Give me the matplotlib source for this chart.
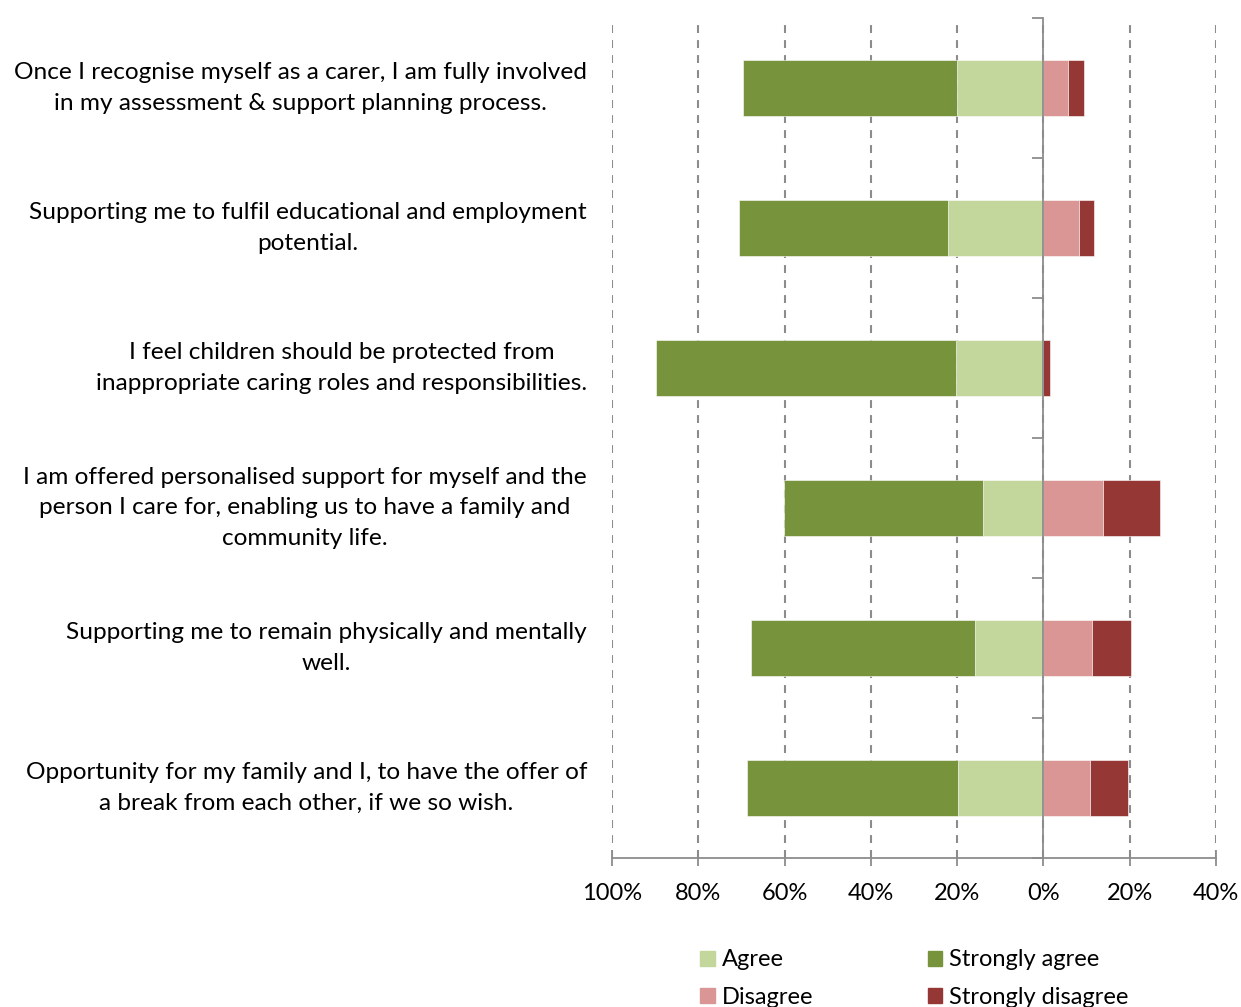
import matplotlib
matplotlib.use("Agg")
import matplotlib.pyplot as plt
from matplotlib.patches import Patch
from matplotlib.transforms import blended_transform_factory
import numpy as np

plt.rcParams['font.family'] = ['Lato', 'DejaVu Sans']

statements = [
    "Once I recognise myself as a carer, I am fully involved\nin my assessment & support planning process.",
    "Supporting me to fulfil educational and employment\npotential.",
    "I feel children should be protected from\ninappropriate caring roles and responsibilities.",
    "I am offered personalised support for myself and the\nperson I care for, enabling us to have a family and\ncommunity life.",
    "Supporting me to remain physically and mentally\nwell.",
    "Opportunity for my family and I, to have the offer of\na break from each other, if we so wish.",
]
strongly_agree = [49.6, 48.5, 69.4, 46.1, 51.9, 48.9]
agree = [20.1, 22.1, 20.3, 14.1, 15.9, 19.8]
disagree = [5.8, 8.2, 0.0, 13.9, 11.3, 10.9]
strongly_disagree = [3.5, 3.6, 1.5, 13.2, 8.9, 8.7]
x_ticks = [-100, -80, -60, -40, -20, 0, 20, 40]
x_tick_labels = ["100%", "80%", "60%", "40%", "20%", "0%", "20%", "40%"]

c_sa = "#77933C"
c_a = "#C3D69B"
c_d = "#D99694"
c_sd = "#953735"
axis_grey = "#8c8c8c"

fig = plt.figure(figsize=(12.41, 10.07), dpi=100)
ax = fig.add_axes([612 / 1241, 1 - 858 / 1007, (1216 - 612) / 1241, (858 - 18) / 1007])

y = np.arange(len(statements))
sa = np.array(strongly_agree)
a = np.array(agree)
d = np.array(disagree)
sd = np.array(strongly_disagree)
h = 0.4
ekw = dict(edgecolor="white", linewidth=0.4, zorder=3)
ax.barh(y, a, left=-a, height=h, color=c_a, **ekw)
ax.barh(y, sa, left=-(a + sa), height=h, color=c_sa, **ekw)
ax.barh(y, d, left=0, height=h, color=c_d, **ekw)
ax.barh(y, sd, left=d, height=h, color=c_sd, **ekw)

ax.set_xlim(-100, 40)
ax.set_ylim(len(statements) - 0.5, -0.5)

ax.set_xticks(x_ticks)
ax.set_xticklabels(x_tick_labels, fontsize=17)
ax.tick_params(axis='x', direction='inout', length=12, color=axis_grey, width=1.3, pad=12)
ax.grid(axis='x', linestyle=(0, (3.8, 3.4)), color=axis_grey, linewidth=1.5, zorder=0)

ax.spines['left'].set_position(('data', 0))
ax.spines['left'].set_color(axis_grey)
ax.spines['left'].set_linewidth(1.3)
ax.spines['left'].set_zorder(4)
ax.spines['bottom'].set_color(axis_grey)
ax.spines['bottom'].set_linewidth(1.3)
ax.spines['top'].set_visible(False)
ax.spines['right'].set_visible(False)
ax.set_yticks(np.arange(-0.5, len(statements), 1.0))
ax.set_yticklabels([])
ax.tick_params(axis='y', direction='out', length=8, color=axis_grey, width=1.3)

label_tf = blended_transform_factory(fig.transFigure, ax.transData)
for yi, label in zip(y, statements):
    ax.text(587 / 1241, yi, label, transform=label_tf,
            ha='right', va='center', multialignment='center', fontsize=17.6, linespacing=1.58)

handles = [Patch(color=c_a, label="Agree"), Patch(color=c_d, label="Disagree"),
           Patch(color=c_sa, label="Strongly agree"), Patch(color=c_sd, label="Strongly disagree")]
fig.legend(handles=handles, ncol=2, loc='upper left', bbox_to_anchor=(691 / 1241, 1 - 940 / 1007),
           frameon=False, fontsize=17, handlelength=0.6, handleheight=0.6, handletextpad=0.3,
           columnspacing=4.86, labelspacing=0.68, borderaxespad=0)

fig.savefig("out.png", dpi=100)
